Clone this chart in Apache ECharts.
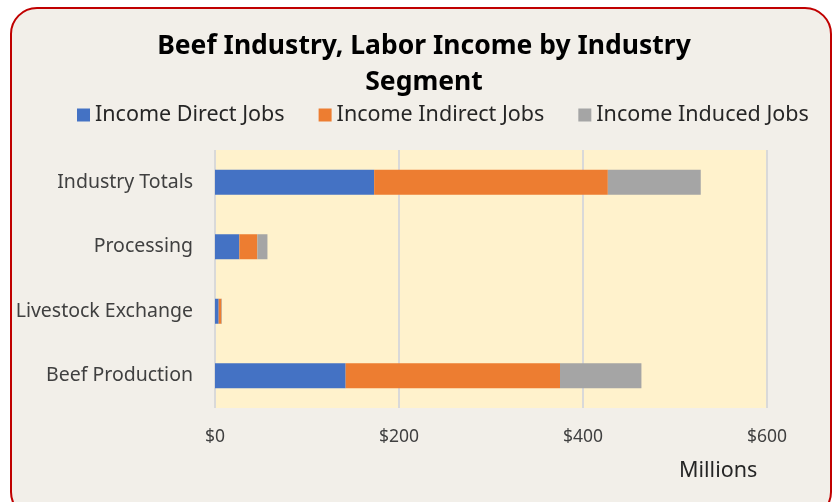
<!DOCTYPE html>
<html>
<head>
<meta charset="utf-8">
<script src="https://cdn.jsdelivr.net/npm/echarts@6/dist/echarts.min.js"></script>
<style>
  html, body { margin: 0; padding: 0; background: #ffffff; }
  #chart { width: 834px; height: 502px; }
</style>
</head>
<body>
<div id="chart"></div>
<script>
// Labor income by segment, millions of dollars
const segments = ['Beef Production', 'Livestock Exchange', 'Processing', 'Industry Totals'];
const directJobs = [142, 4, 26.5, 173];
const indirectJobs = [233, 3, 19.5, 254];
const inducedJobs = [88.5, 0.6, 11, 101];
const seriesNames = ['Income Direct Jobs', 'Income Indirect Jobs', 'Income Induced Jobs'];
const seriesColors = ['#4472c4', '#ed7d31', '#a5a5a5'];
const chartTitle = 'Beef Industry, Labor Income by Industry\nSegment';

const FONT = 'Noto Sans';
const chart = echarts.init(document.getElementById('chart'));

const makeSeries = (name, data, color) => ({
  name: name,
  type: 'bar',
  stack: 'income',
  data: data,
  barWidth: 25,
  itemStyle: { color: color },
  emphasis: { disabled: true }
});

chart.setOption({
  backgroundColor: '#ffffff',
  animation: false,
  textStyle: { fontFamily: FONT },
  graphic: [{
    type: 'rect',
    z: -10,
    shape: { x: 11, y: 8, width: 820, height: 510, r: 26 },
    style: { fill: '#f2efe9', stroke: '#c00000', lineWidth: 2 }
  }, {
    // two-line chart heading, centred over the plot
    type: 'text',
    x: 424,
    y: 28,
    style: {
      text: chartTitle,
      fill: '#000000',
      font: 'bold 26.5px "' + FONT + '"',
      lineHeight: 36,
      align: 'center',
      verticalAlign: 'top'
    }
  }, {
    type: 'text',
    left: 679,
    top: 460,
    style: { text: 'Millions', fill: '#262626', font: '21.5px "' + FONT + '"' }
  }],
  legend: {
    data: seriesNames,
    top: 99,
    left: 72,
    itemWidth: 13,
    itemHeight: 13,
    itemGap: 34,
    icon: 'rect',
    textStyle: { fontFamily: FONT, fontSize: 21.5, color: '#262626' }
  },
  grid: {
    left: 215, right: 67, top: 150, bottom: 94,
    show: true, backgroundColor: '#fff2cc', borderWidth: 0,
    containLabel: false
  },
  xAxis: {
    type: 'value',
    min: 0, max: 600, interval: 200,
    axisLine: { show: false },
    axisTick: { show: false },
    splitLine: { lineStyle: { color: '#d9d9d9', width: 2 } },
    axisLabel: {
      formatter: v => '$' + v,
      fontFamily: FONT, fontSize: 17.5, color: '#404040', margin: 20
    }
  },
  yAxis: {
    type: 'category',
    data: segments,
    axisLine: { show: false },
    axisTick: { show: false },
    axisLabel: { fontFamily: FONT, fontSize: 19.5, color: '#404040', margin: 22, padding: [5, 0, 0, 0] }
  },
  series: [
    makeSeries(seriesNames[0], directJobs, seriesColors[0]),
    makeSeries(seriesNames[1], indirectJobs, seriesColors[1]),
    makeSeries(seriesNames[2], inducedJobs, seriesColors[2])
  ]
});
</script>
</body>
</html>
